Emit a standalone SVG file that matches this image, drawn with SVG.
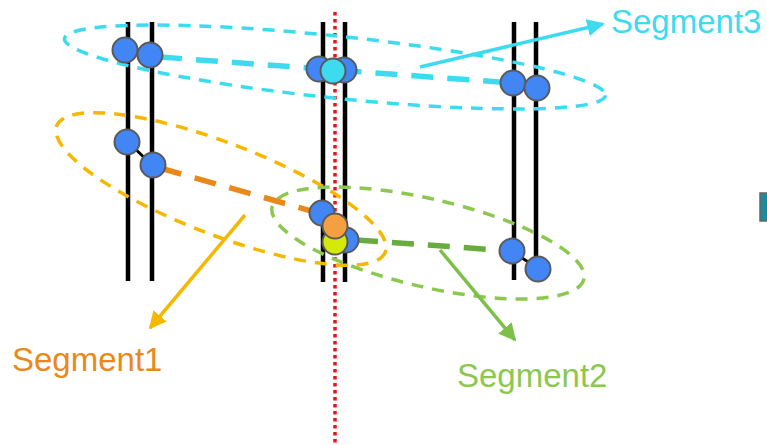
<svg xmlns="http://www.w3.org/2000/svg" width="767" height="445" viewBox="0 0 767 445">
<style>
.wire{stroke:#000;stroke-width:4.5;fill:none}
.node{fill:#4285F4;stroke:#5a5a5a;stroke-width:2}
.ell{fill:none;stroke-width:3.5;stroke-dasharray:12 9}
.lbl{font-family:"Liberation Sans",Arial,sans-serif;font-size:33px}
</style>
<defs>
<marker id="ay" viewBox="0 0 10 10" refX="9" refY="5" markerWidth="5" markerHeight="5" orient="auto"><path d="M0,0 L10,5 L0,10 z" fill="#F5B800"/></marker>
<marker id="ag" viewBox="0 0 10 10" refX="9" refY="5" markerWidth="5" markerHeight="5" orient="auto"><path d="M0,0 L10,5 L0,10 z" fill="#7CC04A"/></marker>
<marker id="ac" viewBox="0 0 10 10" refX="9" refY="5" markerWidth="5" markerHeight="5" orient="auto"><path d="M0,0 L10,5 L0,10 z" fill="#3CDBEF"/></marker>
</defs>
<rect width="767" height="445" fill="#fff"/>
<g id="wires">
<line class="wire" x1="128" y1="22" x2="128" y2="281"/>
<line class="wire" x1="152" y1="22" x2="152" y2="281"/>
<line class="wire" x1="323" y1="22" x2="323" y2="282"/>
<line class="wire" x1="345" y1="22" x2="345" y2="282"/>
<line class="wire" x1="514" y1="22" x2="514" y2="280"/>
<line class="wire" x1="536" y1="22" x2="536" y2="280"/>
<line class="wire" x1="128" y1="142" x2="152" y2="165" style="stroke-width:3"/>
<line class="wire" x1="512" y1="251" x2="537" y2="268" style="stroke-width:3"/>
</g>
<line id="boundary" x1="335" y1="12" x2="335" y2="445" stroke="#E8141C" stroke-width="3.5" stroke-dasharray="3.5 3.5"/>
<g id="ellipses">
<ellipse class="ell" cx="335" cy="67" rx="272" ry="31" transform="rotate(6 335 67)" stroke="#3CDBEF"/>
<ellipse class="ell" cx="221" cy="189" rx="176" ry="46" transform="rotate(21 221 189)" stroke="#F5B800"/>
<ellipse class="ell" cx="428" cy="243" rx="160" ry="44" transform="rotate(13 428 243)" stroke="#8CC850"/>
</g>
<g id="connectors">
<line x1="160" y1="57" x2="512" y2="83" stroke="#3CDBEF" stroke-width="5.5" stroke-dasharray="22 14"/>
<line x1="160" y1="168" x2="322" y2="214" stroke="#E8891A" stroke-width="5.5" stroke-dasharray="22 14"/>
<line x1="356" y1="240" x2="512" y2="251" stroke="#6AAB3E" stroke-width="5.5" stroke-dasharray="22 14"/>
<line x1="245" y1="215" x2="150" y2="328" stroke="#F5B800" stroke-width="3.5" marker-end="url(#ay)"/>
<line x1="440" y1="250" x2="515" y2="340" stroke="#7CC04A" stroke-width="3.5" marker-end="url(#ag)"/>
<line x1="420" y1="67" x2="603" y2="24" stroke="#3CDBEF" stroke-width="3.5" marker-end="url(#ac)"/>
</g>
<g id="hits-left">
<circle class="node" cx="125" cy="50" r="12.5"/>
<circle class="node" cx="150" cy="55" r="12.5"/>
<circle class="node" cx="127" cy="142" r="12.5"/>
<circle class="node" cx="153" cy="165" r="12.5"/>
</g>
<g id="hits-middle-top">
<circle class="node" cx="319" cy="69" r="12.5"/>
<circle class="node" cx="344" cy="70" r="12.5"/>
<circle class="node" cx="333" cy="71" r="12.5" style="fill:#3CDBEF"/>
</g>
<g id="hits-middle-bottom">
<circle class="node" cx="322" cy="213" r="12.5"/>
<circle class="node" cx="346" cy="240" r="12.5"/>
<circle class="node" cx="335" cy="242" r="12.5" style="fill:#D4E80A"/>
<circle class="node" cx="335" cy="226" r="12.5" style="fill:#F4A040"/>
</g>
<g id="hits-right">
<circle class="node" cx="513" cy="83" r="12.5"/>
<circle class="node" cx="537" cy="88" r="12.5"/>
<circle class="node" cx="512" cy="251" r="12.5"/>
<circle class="node" cx="538" cy="269" r="12.5"/>
</g>
<g id="labels">
<text class="lbl" x="611" y="33" fill="#3CDBEF">Segment3</text>
<text class="lbl" x="12" y="371" fill="#E8891A">Segment1</text>
<text class="lbl" x="457" y="387" fill="#8CC850">Segment2</text>
</g>
<rect id="edge-box" x="760" y="193" width="10" height="28" fill="#1A8C9C" stroke="#666" stroke-width="1.5"/>
</svg>
